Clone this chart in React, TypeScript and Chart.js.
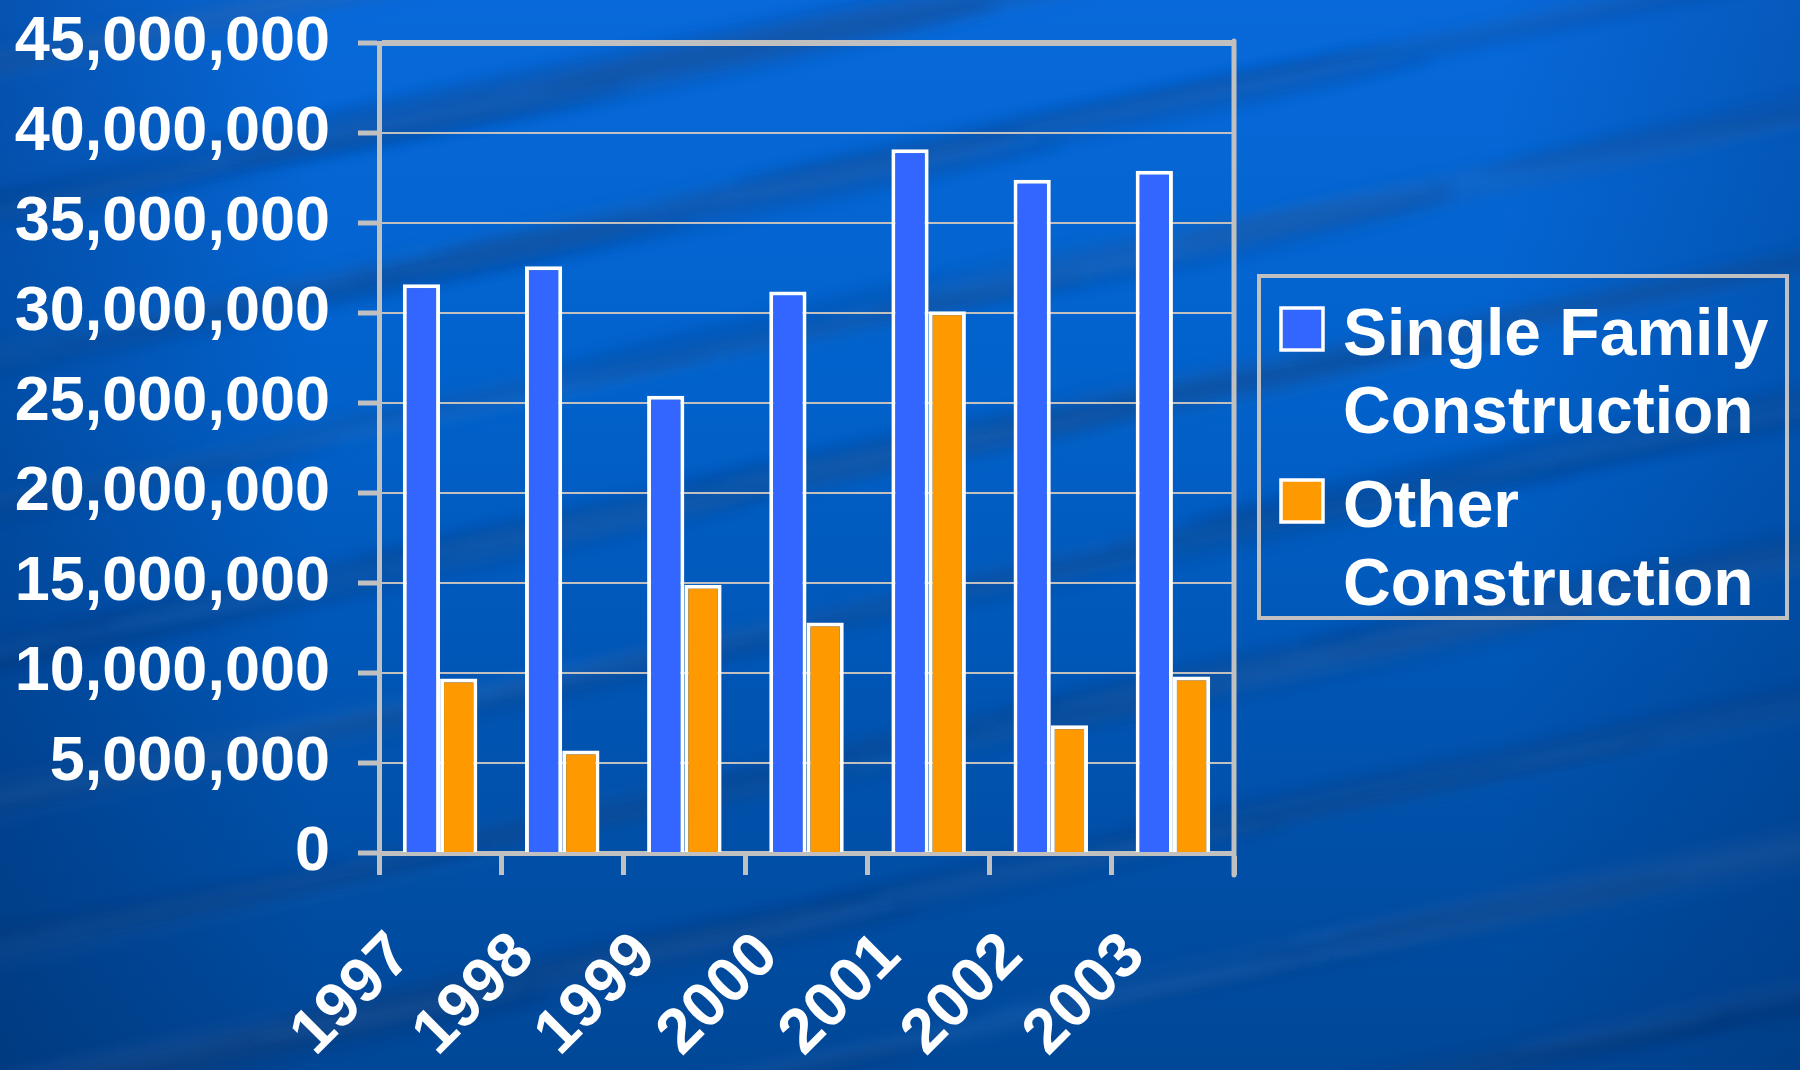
import React, { useEffect, useRef } from "react";
import { Chart, registerables } from "chart.js";

Chart.register(...registerables);

// ---- data ----
const categories = ["1997", "1998", "1999", "2000", "2001", "2002", "2003"];
const singleFamily = [31600000, 32600000, 25400000, 31200000, 39100000, 37400000, 37900000];
const otherConstruction = [9700000, 5700000, 14900000, 12800000, 30100000, 7100000, 9800000];
const seriesNames = ["Single Family Construction", "Other Construction"];
const seriesLines = [
  ["Single Family", "Construction"],
  ["Other", "Construction"],
];
const yMax = 45000000;
const yStep = 5000000;

const FONT = "'Liberation Sans', Arial, Helvetica, sans-serif";
const GRAY = "#c0c0c0";

const backgroundPlugin = {
  id: "bgWater",
  beforeDraw(chart: any) {
    const { ctx, width, height } = chart;
    ctx.save();
    const g = ctx.createLinearGradient(0, 0, 0, height);
    g.addColorStop(0, "#0869da");
    g.addColorStop(0.35, "#0262cc");
    g.addColorStop(0.7, "#0053af");
    g.addColorStop(1, "#004797");
    ctx.fillStyle = g;
    ctx.fillRect(0, 0, width, height);
    // darker left edge
    const gl = ctx.createLinearGradient(0, 0, 320, 0);
    gl.addColorStop(0, "rgba(0,25,70,0.28)");
    gl.addColorStop(1, "rgba(0,25,70,0)");
    ctx.fillStyle = gl;
    ctx.fillRect(0, 0, 320, height);
    // darker right edge
    const gr = ctx.createLinearGradient(width - 300, 0, width, 0);
    gr.addColorStop(0, "rgba(0,25,70,0)");
    gr.addColorStop(1, "rgba(0,25,70,0.2)");
    ctx.fillStyle = gr;
    ctx.fillRect(width - 300, 0, 300, height);
    // soft diagonal streaks (decorative texture)
    ctx.filter = "blur(6px)";
    for (let i = 0; i < 140; i++) {
      const cx = (i * 379) % 2000 - 100;
      const cy = (i * 211) % 1180 - 50;
      const rx = 260 + ((i * 97) % 420);
      const ry = 7 + ((i * 13) % 12);
      ctx.beginPath();
      ctx.ellipse(cx, cy, rx, ry, -0.2, 0, Math.PI * 2);
      ctx.fillStyle = i % 2 === 0 ? "rgba(90,160,255,0.08)" : "rgba(0,20,60,0.1)";
      ctx.fill();
    }
    ctx.filter = "none";
    ctx.restore();
  },
};

const framePlugin = {
  id: "frameAndLegend",
  afterDraw(chart: any) {
    const { ctx, chartArea } = chart;
    ctx.save();
    // right frame line
    ctx.strokeStyle = GRAY;
    ctx.lineWidth = 5;
    ctx.lineCap = "round";
    ctx.beginPath();
    ctx.moveTo(chartArea.right, chartArea.top - 2);
    ctx.lineTo(chartArea.right, chartArea.bottom + 22);
    ctx.stroke();

    // legend box
    const bx = 1259, by = 276, bw = 528, bh = 342;
    ctx.lineCap = "butt";
    ctx.lineWidth = 4;
    ctx.strokeStyle = GRAY;
    ctx.strokeRect(bx, by, bw, bh);

    const entries = chart.data.datasets;
    const tops = [308, 480];
    ctx.font = `bold 66px ${FONT}`;
    ctx.textBaseline = "alphabetic";
    ctx.textAlign = "left";
    entries.forEach((ds: any, i: number) => {
      const top = tops[i];
      ctx.fillStyle = ds.backgroundColor;
      ctx.fillRect(1281, top, 42, 42);
      ctx.strokeStyle = "#ffffff";
      ctx.lineWidth = 3.5;
      ctx.strokeRect(1281, top, 42, 42);
      ctx.fillStyle = "#ffffff";
      const lines = seriesLines[i];
      lines.forEach((t: string, j: number) => {
        ctx.fillText(t, 1343, top + 47 + j * 78);
      });
    });
    ctx.restore();
  },
};

export default function App() {
  const ref = useRef<HTMLCanvasElement | null>(null);

  useEffect(() => {
    if (!ref.current) return;
    const chart = new Chart(ref.current, {
      type: "bar",
      data: {
        labels: categories,
        datasets: [
          {
            label: seriesNames[0],
            data: singleFamily,
            backgroundColor: "#3366ff",
            borderColor: "#ffffff",
            borderWidth: 4,
            categoryPercentage: 0.61,
            barPercentage: 1.0,
          },
          {
            label: seriesNames[1],
            data: otherConstruction,
            backgroundColor: "#ff9900",
            borderColor: "#ffffff",
            borderWidth: 4,
            categoryPercentage: 0.61,
            barPercentage: 1.0,
          },
        ],
      },
      options: {
        responsive: false,
        animation: false,
        devicePixelRatio: 1,
        layout: { padding: { left: 15, top: 43, right: 566, bottom: 0 } },
        plugins: {
          legend: { display: false },
          tooltip: { enabled: false },
          title: { display: false },
        },
        scales: {
          x: {
            offset: true,
            grid: {
              offset: true,
              drawOnChartArea: false,
              drawTicks: true,
              tickLength: 22,
              tickWidth: 5,
              tickColor: GRAY,
            },
            border: { display: true, color: GRAY, width: 5 },
            ticks: {
              color: "#ffffff",
              font: { family: FONT, size: 63, weight: "bold" },
              minRotation: 45,
              maxRotation: 45,
              autoSkip: false,
              padding: 44,
              labelOffset: -38,
            },
            afterFit: (axis: any) => {
              axis.height = 1070 - 853;
              axis.paddingLeft = 0;
              axis.paddingRight = 0;
            },
          },
          y: {
            min: 0,
            max: yMax,
            ticks: {
              stepSize: yStep,
              color: "#ffffff",
              font: { family: FONT, size: 63, weight: "bold" },
              padding: 28,
              callback: (v: any) => Number(v).toLocaleString("en-US"),
            },
            grid: {
              color: GRAY,
              lineWidth: (c: any) => (c.tick && c.tick.value === yMax ? 6 : 2),
              drawTicks: true,
              tickLength: 21,
              tickWidth: 5,
              tickColor: GRAY,
            },
            border: { display: true, color: GRAY, width: 5 },
            afterFit: (axis: any) => {
              axis.width = 379 - 15;
              axis.paddingTop = 0;
              axis.paddingBottom = 0;
            },
          },
        },
      },
      plugins: [backgroundPlugin, framePlugin],
    });
    return () => chart.destroy();
  }, []);

  return (
    <div style={{ position: "absolute", left: 0, top: 0, width: 1800, height: 1070 }}>
      <canvas ref={ref} width={1800} height={1070} style={{ width: 1800, height: 1070, display: "block" }} />
    </div>
  );
}
